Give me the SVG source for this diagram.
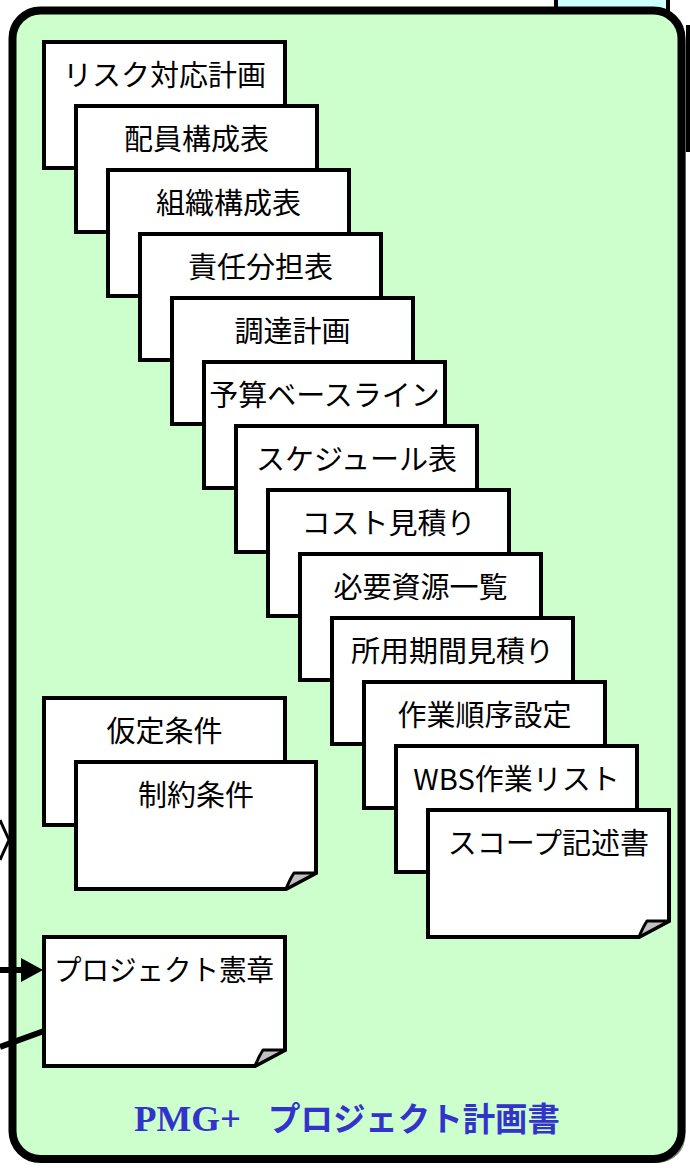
<svg xmlns="http://www.w3.org/2000/svg" width="690" height="1168" viewBox="0 0 690 1168">
<style>
.doc{fill:#fff;stroke:#000;stroke-width:4;stroke-linejoin:miter}
.flap{fill:#c0c0c0;stroke:#000;stroke-width:3;stroke-linejoin:round}
.t{font-family:"Noto Sans CJK JP","Noto Sans",sans-serif;font-size:29px;fill:#000;text-anchor:middle}
.ln{stroke:#000;stroke-width:6;fill:none}
</style>
<rect width="690" height="1168" fill="#fff"/>
<g id="bg-items">
<rect x="556" y="-20" width="112" height="35" fill="#ccffff" stroke="#000" stroke-width="4"/>
<rect x="688" y="27" width="30" height="123" fill="#fff" stroke="#000" stroke-width="4"/>
</g>
<g id="frame">
<rect x="16.5" y="14.5" width="669" height="1148.5" rx="28" fill="#808080"/>
<rect x="12.5" y="10.5" width="669" height="1148.5" rx="28" fill="#ccffcc" stroke="#000" stroke-width="8"/>
<text x="134" y="1131" font-family="Liberation Serif,serif" font-weight="bold" font-size="35" fill="#3333cc" textLength="107" lengthAdjust="spacingAndGlyphs">PMG+</text>
<text x="268" y="1131" font-family="Noto Sans CJK JP,sans-serif" font-weight="bold" font-size="33" fill="#3333cc" textLength="292" lengthAdjust="spacingAndGlyphs">プロジェクト計画書</text>
</g>
<g id="connectors">
<line class="ln" x1="0" y1="970" x2="24" y2="970"/>
<polygon points="21,958 43,970 21,982" fill="#000"/>
<line class="ln" x1="0" y1="1047" x2="44" y2="1031"/>
<polyline points="0,820 9,840 0,860" fill="none" stroke="#000" stroke-width="3"/>
</g>
<g id="n1"><rect class="doc" x="44" y="42" width="241" height="126"/><text class="t" x="164.5" y="86">リスク対応計画</text></g>
<g id="n2"><rect class="doc" x="76" y="106" width="241" height="126"/><text class="t" x="196.5" y="150">配員構成表</text></g>
<g id="n3"><rect class="doc" x="108" y="170" width="241" height="126"/><text class="t" x="228.5" y="214">組織構成表</text></g>
<g id="n4"><rect class="doc" x="140" y="234" width="241" height="126"/><text class="t" x="260.5" y="278">責任分担表</text></g>
<g id="n5"><rect class="doc" x="172" y="298" width="241" height="126"/><text class="t" x="292.5" y="342">調達計画</text></g>
<g id="n6"><rect class="doc" x="204" y="362" width="241" height="126"/><text class="t" x="324.5" y="406">予算ベースライン</text></g>
<g id="n7"><rect class="doc" x="236" y="426" width="241" height="126"/><text class="t" x="356.5" y="470">スケジュール表</text></g>
<g id="n8"><rect class="doc" x="268" y="490" width="241" height="126"/><text class="t" x="388.5" y="534">コスト見積り</text></g>
<g id="n9"><rect class="doc" x="300" y="554" width="241" height="126"/><text class="t" x="420.5" y="598">必要資源一覧</text></g>
<g id="n10"><rect class="doc" x="332" y="618" width="241" height="126"/><text class="t" x="452.5" y="662">所用期間見積り</text></g>
<g id="n11"><rect class="doc" x="364" y="682" width="241" height="126"/><text class="t" x="484.5" y="726">作業順序設定</text></g>
<g id="n12"><rect class="doc" x="396" y="746" width="241" height="126"/><text class="t" x="516.5" y="790">WBS作業リスト</text></g>
<g id="n13"><path class="doc" d="M428,810 H669 V921 L639,937 H428 Z"/><path class="flap" d="M639,937 Q643,927 647,921 L669,921 Z"/><text class="t" x="548.5" y="854">スコープ記述書</text></g>
<g id="n14"><rect class="doc" x="44" y="698" width="241" height="127"/><text class="t" x="164.5" y="742">仮定条件</text></g>
<g id="n15"><path class="doc" d="M76,762 H316 V873 L286,889 H76 Z"/><path class="flap" d="M286,889 Q290,879 294,873 L316,873 Z"/><text class="t" x="196" y="806">制約条件</text></g>
<g id="n16"><path class="doc" d="M44,937 H285 V1050 L255,1066 H44 Z"/><path class="flap" d="M255,1066 Q259,1056 263,1050 L285,1050 Z"/><text class="t" x="164" y="981" textLength="220" lengthAdjust="spacingAndGlyphs">プロジェクト憲章</text></g>
</svg>
